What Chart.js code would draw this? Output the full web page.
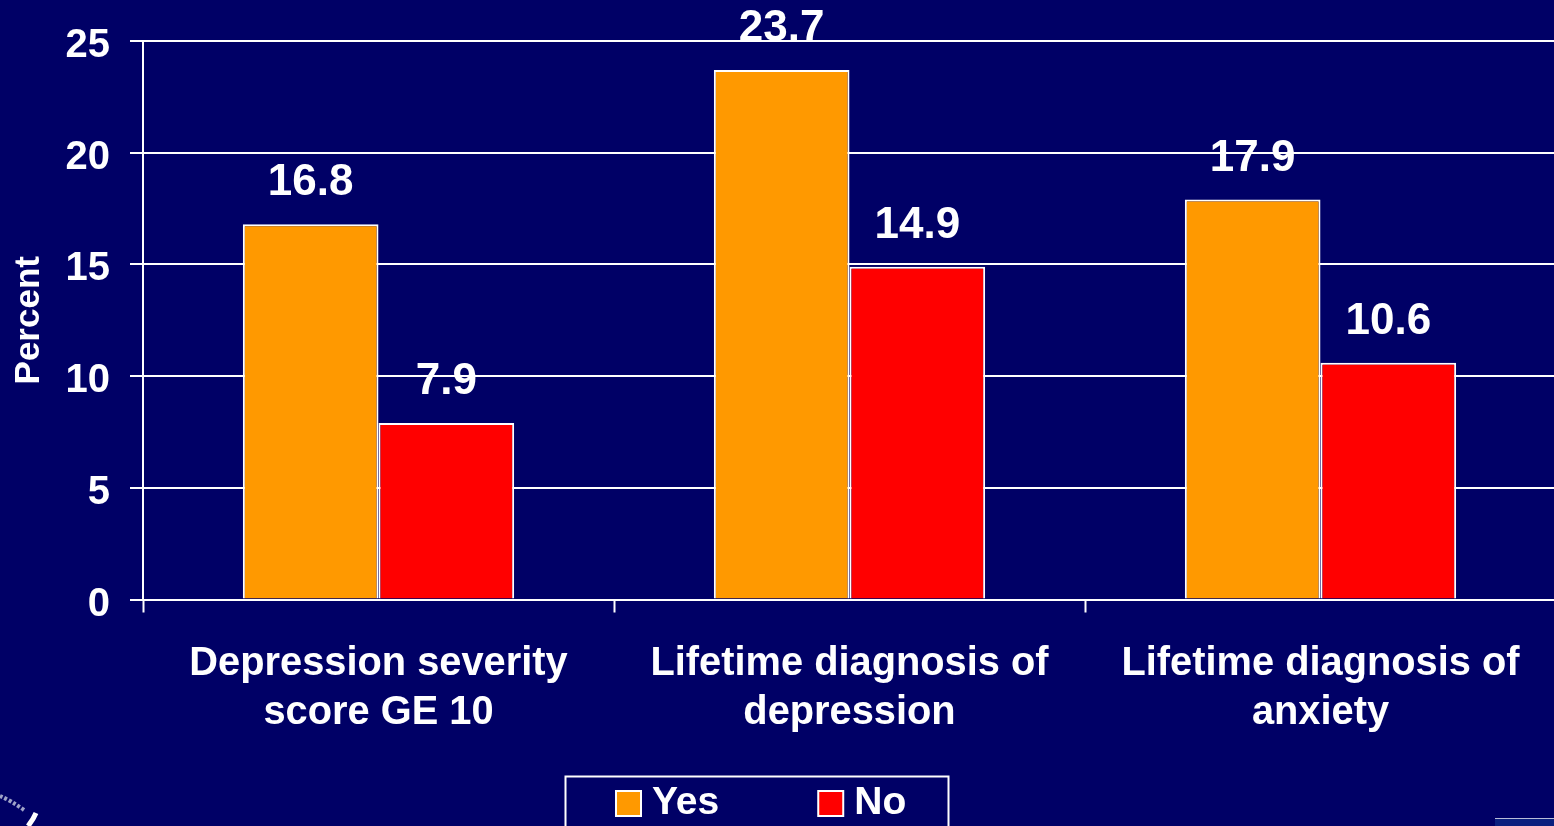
<!DOCTYPE html>
<html>
<head>
<meta charset="utf-8">
<style>
html,body{margin:0;padding:0;width:1554px;height:826px;overflow:hidden;background:#000066}
canvas{display:block;position:absolute;left:0;top:0}
#corner{position:absolute;left:1495px;top:818px;width:59px;height:8px;background:#0a1f7e;border-top:1px solid #b8bcd8}
#seal{position:absolute;left:0;top:780px}
</style>
</head>
<body>
<svg id="seal" width="60" height="46" viewBox="0 0 60 46"><path d="M28 46 Q33 40 36 33" stroke="#fff" stroke-width="5" fill="none"/><path d="M0 16 Q10 20 24 30" stroke="#9fa3c8" stroke-width="4" stroke-dasharray="3 2" fill="none"/></svg>
<canvas id="c" width="1556" height="826"></canvas>
<div id="corner"></div>
<script src="https://cdn.jsdelivr.net/npm/chart.js@4/dist/chart.umd.min.js"></script>
<script>
const categories = [
  ["Depression severity", "score GE 10"],
  ["Lifetime diagnosis of", "depression"],
  ["Lifetime diagnosis of", "anxiety"]
];
const yesValues = [16.8, 23.7, 17.9];
const noValues = [7.9, 14.9, 10.6];
const fontFamily = "'Liberation Sans', Arial, sans-serif";

const valueLabels = {
  id: 'valueLabels',
  afterDatasetsDraw(chart) {
    const ctx = chart.ctx;
    ctx.save();
    ctx.fillStyle = '#fff';
    ctx.font = 'bold 44px ' + fontFamily;
    ctx.textAlign = 'center';
    ctx.textBaseline = 'alphabetic';
    chart.data.datasets.forEach((ds, i) => {
      chart.getDatasetMeta(i).data.forEach((bar, j) => {
        ctx.fillText(ds.data[j].toFixed(1), bar.x, bar.y - 29);
      });
    });
    ctx.restore();
  }
};
const legendFrame = {
  id: 'legendFrame',
  afterLayout(chart) {
    const l = chart.legend;
    l.left = 517; l.right = 1400; l.top = 676.5;
  },
  afterDraw(chart) {
    const ctx = chart.ctx;
    ctx.save();
    ctx.strokeStyle = '#fff';
    ctx.lineWidth = 2;
    ctx.strokeRect(565.5, 776.5, 383, 80);
    ctx.restore();
  }
};

new Chart(document.getElementById('c'), {
  type: 'bar',
  data: {
    labels: categories,
    datasets: [
      { label: 'Yes', data: yesValues, backgroundColor: '#ff9900', borderColor: '#fff', borderWidth: 2, pointStyle: 'rect' },
      { label: 'No', data: noValues, backgroundColor: '#ff0000', borderColor: '#fff', borderWidth: 2, pointStyle: 'rect' }
    ]
  },
  options: {
    responsive: false,
    animation: false,
    layout: { padding: { top: 41, left: 0, right: 0, bottom: -80 } },
    datasets: { bar: { categoryPercentage: 0.576, barPercentage: 1 } },
    plugins: {
      tooltip: { enabled: false },
      legend: {
        display: true,
        position: 'bottom',
        align: 'start',
        labels: {
          usePointStyle: true,
          boxWidth: 8,
          boxHeight: 25,
          padding: 107.5,
          color: '#fff',
          font: { family: fontFamily, weight: 'bold', size: 39 }
        }
      }
    },
    scales: {
      x: {
        afterFit(s) { s.height = 150; },
        grid: { drawOnChartArea: false, drawTicks: true, tickLength: 13, tickColor: '#fff', tickWidth: 2, offset: true },
        border: { color: '#fff', width: 2 },
        ticks: {
          color: '#fff', maxRotation: 0, minRotation: 0, autoSkip: false, padding: 27,
          font: { family: fontFamily, weight: 'bold', size: 39.8, lineHeight: 1.231 }
        }
      },
      y: {
        min: 0, max: 25,
        afterFit(s) { s.width = 143; s.paddingTop = 0; s.paddingBottom = 0; },
        title: {
          display: true, text: 'Percent', color: '#fff', padding: { top: 8, bottom: 0 },
          font: { family: fontFamily, weight: 'bold', size: 35 }
        },
        grid: { color: '#fff', lineWidth: 2, tickLength: 13, tickColor: '#fff', tickWidth: 2 },
        border: { color: '#fff', width: 2 },
        ticks: {
          stepSize: 5, color: '#fff', padding: 20, labelOffset: 5,
          font: { family: fontFamily, weight: 'bold', size: 40 }
        }
      }
    }
  },
  plugins: [valueLabels, legendFrame]
});
</script>
</body>
</html>
